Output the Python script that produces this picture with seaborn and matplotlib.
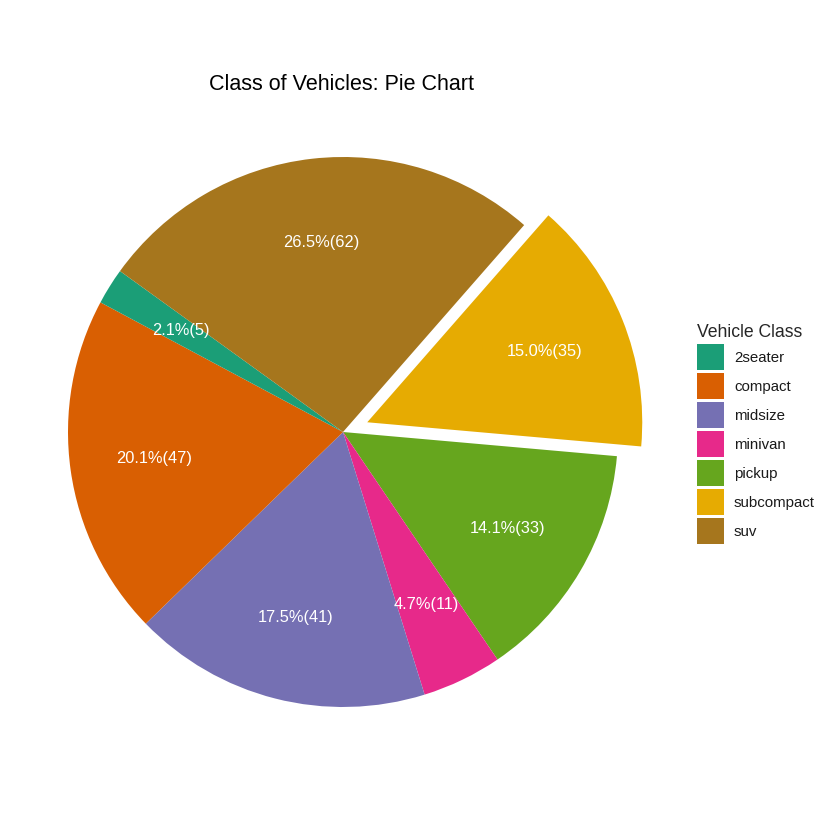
import matplotlib
matplotlib.use("Agg")
import matplotlib.pyplot as plt
from matplotlib.patches import Patch
import seaborn as sns

# Data
classes = ["2seater", "compact", "midsize", "minivan", "pickup", "subcompact", "suv"]
counts = [5, 47, 41, 11, 33, 35, 62]
# drawing order (clockwise from start angle)
draw_order = ["subcompact", "pickup", "minivan", "midsize", "compact", "2seater", "suv"]
exploded = ["subcompact"]
title = "Class of Vehicles: Pie Chart"
legend_title = "Vehicle Class"

sns.set_theme(style="white")
plt.rcParams["font.family"] = ["Liberation Sans", "DejaVu Sans"]

palette = dict(zip(classes, sns.color_palette("Dark2", len(classes))))
count_map = dict(zip(classes, counts))
total = sum(counts)

fig = plt.figure(figsize=(8.4, 8.4), dpi=100)
fig.patch.set_facecolor("white")
ax = fig.add_axes([13 / 840, 78 / 840, 660 / 840, 660 / 840])

vals = [count_map[c] for c in draw_order]
cols = [palette[c] for c in draw_order]
expl = [0.095 if c in exploded else 0.0 for c in draw_order]


def fmt(p):
    n = int(round(p * total / 100.0))
    return f"{p:.1f}%({n})"


wedges, texts, autotexts = ax.pie(
    vals, colors=cols, explode=expl, startangle=48.8, counterclock=False,
    autopct=fmt, pctdistance=0.695, radius=1.0,
    wedgeprops=dict(linewidth=0),
    textprops=dict(color="white", fontsize=11.8),
)
ax.set_xlim(-1.2, 1.2)
ax.set_ylim(-1.2, 1.2)
ax.set_aspect("equal")
ax.axis("off")

fig.text(341.5 / 840, 1 - 85 / 840, title, ha="center", va="center",
         fontsize=15.5, color="black")

handles = [Patch(facecolor=palette[c], edgecolor="none", label=c) for c in classes]
leg = fig.legend(handles=handles, title=legend_title, loc="upper left",
                 bbox_to_anchor=(697 / 840, 1 - 324 / 840), frameon=False,
                 fontsize=10.8, title_fontsize=12.7, handlelength=1.8,
                 handleheight=2.29, labelspacing=0.2, handletextpad=0.67,
                 borderpad=0, borderaxespad=0, alignment="left")
for t in leg.get_texts():
    t.set_color("#1a1a1a")

fig.savefig("out.png", dpi=100, facecolor="white")
